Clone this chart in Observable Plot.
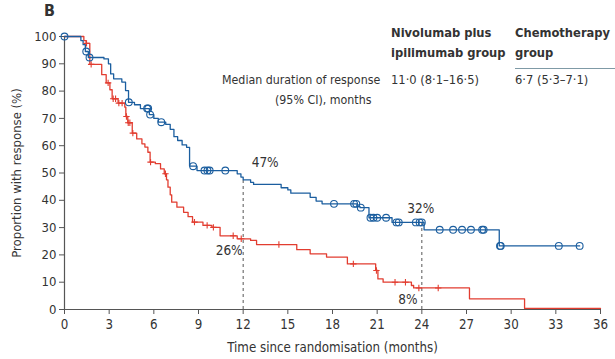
<!DOCTYPE html>
<html><head><meta charset="utf-8">
<script src="https://cdn.jsdelivr.net/npm/d3@7"></script>
<script src="https://cdn.jsdelivr.net/npm/@observablehq/plot@0.6"></script>
<style>
body{margin:0;background:#fff;}
#wrap{position:relative;width:615px;height:359px;font-family:"Liberation Sans Narrow","DejaVu Sans Condensed",Roboto,sans-serif;color:#333;}
.t{position:absolute;white-space:nowrap;font-size:12.8px;line-height:14px;}
.b{font-weight:bold;}
</style></head><body><div id="wrap"></div>
<script>
// Nivolumab plus ipilimumab group (blue): step times (months) and proportion (%)
const blueTimes = [0,1.1,1.25,1.4,1.6,2.65,2.95,3.1,3.3,3.85,4.1,4.3,4.7,5.1,5.7,6.0,6.3,6.8,7.1,7.35,7.6,7.9,8.2,8.4,8.9,11.6,11.85,12.0,12.5,12.7,14.55,15.0,15.2,16.5,16.9,17.3,19.65,19.85,20.45,22.0,24.15,29.2,34.6];
const blueSurv  = [100,98.5,97,94.5,92.3,91.8,90,86.3,84.5,83.3,80.2,75.9,75.0,73.6,71.4,70.0,68.6,67.8,66.0,63.3,61.9,60.3,59.4,52.5,50.9,49.7,48.5,47.5,46.6,45.8,44.6,43.8,42.6,41.1,39.7,38.7,37.7,37.3,33.6,31.9,29.2,23.3,23.3];
const blueCensor = [0,1.46,1.68,4.32,5.55,5.62,5.75,6.5,8.64,9.4,9.6,9.75,10.8,18.1,19.45,19.6,19.9,20.55,20.75,21.0,21.6,22.3,22.45,23.6,23.85,24.0,25.2,26.1,26.7,27.3,28.05,28.15,29.25,29.3,33.2,34.6];
// Chemotherapy group (red)
const redTimes = [0,1.3,1.45,1.7,2.5,2.8,3.05,3.2,3.6,4.05,4.12,4.25,4.55,4.85,5.2,5.4,5.6,5.75,6.1,6.45,6.7,6.85,6.95,7.1,7.2,7.55,8.0,8.3,8.6,9.3,9.9,10.45,11.6,12.5,12.9,15.6,16.5,17.6,19.0,20.9,21.05,21.4,23.3,23.45,27.2,30.9,36];
const redSurv  = [100,98.5,97.5,89.8,86,83,80.5,77.2,75.6,74.1,70.7,68.4,64.6,62.5,60.7,59.5,57.6,54.0,53.4,51.5,49.7,47.5,44.8,42,39.3,37.5,35.6,34,32.0,30.8,30.1,27.0,25.9,25.3,23.8,21.9,20.4,19.2,16.7,14.3,11.2,10.0,8.8,7.9,3.9,0.4,0.4];
const redCensor = [1.48,1.79,2.93,3.27,3.43,3.65,3.87,4.16,4.28,4.39,4.59,5.78,6.78,8.73,9.58,10.0,11.33,11.87,14.4,19.4,20.95,22.2,22.9,23.8,25.1];
// Landmarks
const landmarkTimes = [12, 24];
const blueLandmarkLabels = ["47%", "32%"];
const redLandmarkLabels = ["26%", "8%"];
const xTicks = [0,3,6,9,12,15,18,21,24,27,30,33,36];
const yTicks = [0,10,20,30,40,50,60,70,80,90,100];

const BLUE = "#1b5e9f", RED = "#e23d30", AX = "#555";
const FONT = "\"Liberation Sans Narrow\",\"DejaVu Sans Condensed\",Roboto,sans-serif";

const zip = (ts, ss) => ts.map((t, i) => ({t, s: ss[i]}));
const blue = zip(blueTimes, blueSurv);
const red = zip(redTimes, redSurv);
const valAt = (steps, t) => { let v = steps[0].s; for (const d of steps) if (d.t <= t) v = d.s; return v; };
const blueC = blueCensor.map(t => ({t, s: valAt(blue, t)}));
const redC = redCensor.map(t => ({t, s: valAt(red, t)}));
const lm = landmarkTimes.map((t, i) => ({t, b: valAt(blue, t), r: valAt(red, t), bl: blueLandmarkLabels[i], rl: redLandmarkLabels[i]}));

const plus = {draw(ctx, size) { const r = Math.sqrt(size / Math.PI); ctx.moveTo(-r, 0); ctx.lineTo(r, 0); ctx.moveTo(0, -r); ctx.lineTo(0, r); }};

const chart = Plot.plot({
  width: 615, height: 359,
  marginTop: 36, marginBottom: 50, marginLeft: 64, marginRight: 15,
  style: {fontFamily: FONT, fontSize: "12.8px", color: "#333", background: "white"},
  x: {domain: [0, 36]},
  y: {domain: [0, 100]},
  marks: [
    Plot.axisX({ticks: xTicks, tickSize: 5, tickPadding: 5, stroke: AX, fontSize: 13.2, label: "Time since randomisation (months)", labelAnchor: "center", labelArrow: "none", labelOffset: 42}),
    Plot.axisY({ticks: yTicks, tickSize: 5, tickPadding: 3, stroke: AX, fontSize: 13, label: "Proportion with response (%)", labelAnchor: "center", labelArrow: "none", labelOffset: 53}),
    Plot.ruleY([0], {stroke: AX, strokeWidth: 1.2}),
    Plot.ruleX([0], {stroke: AX, strokeWidth: 1.2}),
    Plot.ruleX(lm, {x: "t", y1: 0, y2: "b", stroke: AX, strokeDasharray: "3,3", strokeWidth: 1}),
    Plot.line(red, {x: "t", y: "s", curve: "step-after", stroke: RED, strokeWidth: 1.3}),
    Plot.line(blue, {x: "t", y: "s", curve: "step-after", stroke: BLUE, strokeWidth: 1.3}),
    Plot.dot(redC, {x: "t", y: "s", symbol: plus, r: 3.2, stroke: RED, fill: "none", strokeWidth: 1.1}),
    Plot.dot(blueC, {x: "t", y: "s", r: 3.4, stroke: BLUE, fill: "none", strokeWidth: 1.1}),
    Plot.text(lm.slice(0,1), {x: "t", y: "b", text: "bl", dx: 22, dy: -17, fontSize: 13.5, fill: "#333"}),
    Plot.text(lm.slice(1), {x: "t", y: "b", text: "bl", dx: -1, dy: -14, fontSize: 13.5, fill: "#333"}),
    Plot.text(lm, {x: "t", y: "r", text: "rl", dx: -14, dy: 12, fontSize: 13.5, fill: "#333"})
  ]
});
const wrap = document.getElementById("wrap");
wrap.appendChild(chart);
const items = [
  ["B", 44, 4, "b", 16],
  ["Nivolumab plus", 391, 26, "b"],
  ["ipilimumab group", 391, 46, "b"],
  ["Chemotherapy", 515, 26, "b"],
  ["group", 515, 46, "b"],
  ["Median duration of response", 222, 73, "", 12.3],
  ["11·0 (8·1–16·5)", 391, 73, ""],
  ["6·7 (5·3–7·1)", 515, 73, ""],
  ["(95% CI), months", 275, 93, "", 12.3]
];
for (const [txt, x, y, cls, fs] of items) {
  const d = document.createElement("div");
  d.className = "t " + cls; d.textContent = txt;
  d.style.left = x + "px"; d.style.top = y + "px";
  if (fs) d.style.fontSize = fs + "px";
  wrap.appendChild(d);
}
const ln = document.createElement("div");
ln.style.cssText = "position:absolute;left:515px;top:68px;width:100px;height:0;border-top:1px solid #7f9aa6;";
wrap.appendChild(ln);
chart.style.position = "absolute"; chart.style.left = "0"; chart.style.top = "0";
</script></body></html>
